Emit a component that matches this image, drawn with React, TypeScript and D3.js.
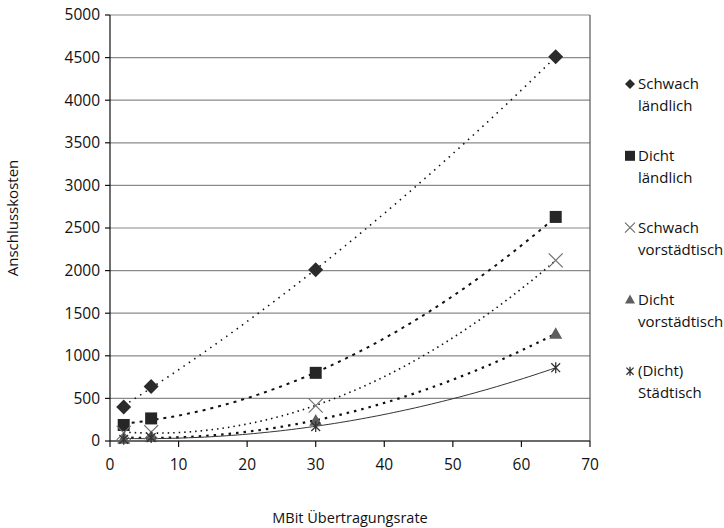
import React from "react";
import * as d3 from "d3";

const xValues = [2, 6, 30, 65];
const schwachLaendlich = [400, 640, 2010, 4510];
const dichtLaendlich = [188, 265, 800, 2630];
const schwachVorstaedtisch = [95, 105, 415, 2120];
const dichtVorstaedtisch = [30, 50, 240, 1260];
const staedtisch = [20, 40, 170, 860];
const legendLines = [
  ["Schwach", "ländlich"],
  ["Dicht", "ländlich"],
  ["Schwach", "vorstädtisch"],
  ["Dicht", "vorstädtisch"],
  ["(Dicht)", "Städtisch"],
];
const xTicks = [0, 10, 20, 30, 40, 50, 60, 70];
const yTicks = [0, 500, 1000, 1500, 2000, 2500, 3000, 3500, 4000, 4500, 5000];
const xTitle = "MBit Übertragungsrate";
const yTitle = "Anschlusskosten";

const W = 724;
const H = 528;
const FONT = "'Open Sans', 'Noto Sans', sans-serif";

const x = d3.scaleLinear().domain([0, 70]).range([110, 590]);
const y = d3.scaleLinear().domain([0, 5000]).range([441, 15]);

// quadratic least-squares trendline (like a spreadsheet polynomial trend)
function quadFit(xs: number[], ys: number[]) {
  const n = xs.length;
  let s0 = n, s1 = 0, s2 = 0, s3 = 0, s4 = 0, t0 = 0, t1 = 0, t2 = 0;
  for (let i = 0; i < n; i++) {
    const a = xs[i], b = ys[i];
    s1 += a; s2 += a * a; s3 += a * a * a; s4 += a * a * a * a;
    t0 += b; t1 += a * b; t2 += a * a * b;
  }
  const M = [
    [s0, s1, s2, t0],
    [s1, s2, s3, t1],
    [s2, s3, s4, t2],
  ];
  for (let i = 0; i < 3; i++) {
    let p = i;
    for (let r = i + 1; r < 3; r++) if (Math.abs(M[r][i]) > Math.abs(M[p][i])) p = r;
    [M[i], M[p]] = [M[p], M[i]];
    for (let r = 0; r < 3; r++) {
      if (r === i) continue;
      const f = M[r][i] / M[i][i];
      for (let c = i; c < 4; c++) M[r][c] -= f * M[i][c];
    }
  }
  const c0 = M[0][3] / M[0][0], c1 = M[1][3] / M[1][1], c2 = M[2][3] / M[2][2];
  return (v: number) => c0 + c1 * v + c2 * v * v;
}

function trendPath(ys: number[]) {
  const f = quadFit(xValues, ys);
  const x0 = xValues[0], x1 = xValues[xValues.length - 1];
  const pts = d3.range(0, 81).map((i) => x0 + ((x1 - x0) * i) / 80);
  return d3
    .line<number>()
    .x((v) => x(v))
    .y((v) => y(f(v)))(pts) as string;
}

type MarkerKind = "diamond" | "square" | "times" | "triangle" | "asterisk";

function Marker({ kind, cx, cy, s }: { kind: MarkerKind; cx: number; cy: number; s: number }) {
  const h = s / 2;
  if (kind === "diamond") {
    return <path d={`M${cx},${cy - h}L${cx + h},${cy}L${cx},${cy + h}L${cx - h},${cy}Z`} fill="#2b2b2b" />;
  }
  if (kind === "square") {
    return <rect x={cx - h} y={cy - h} width={s} height={s} fill="#262626" />;
  }
  if (kind === "times") {
    return (
      <path
        d={`M${cx - h},${cy - h}L${cx + h},${cy + h}M${cx - h},${cy + h}L${cx + h},${cy - h}`}
        stroke="#707070"
        strokeWidth={1.2}
        fill="none"
      />
    );
  }
  if (kind === "triangle") {
    return <path d={`M${cx},${cy - h}L${cx + h},${cy + h * 0.8}L${cx - h},${cy + h * 0.8}Z`} fill="#5e5e5e" />;
  }
  const d = h * 0.8;
  return (
    <path
      d={`M${cx},${cy - h}L${cx},${cy + h}M${cx - d},${cy - d}L${cx + d},${cy + d}M${cx - d},${cy + d}L${cx + d},${cy - d}`}
      stroke="#333"
      strokeWidth={1.3}
      fill="none"
    />
  );
}

const series: { values: number[]; kind: MarkerKind; size: number; dash: string; width: number; color: string }[] = [
  { values: schwachLaendlich, kind: "diamond", size: 15, dash: "1.5,5", width: 1.6, color: "#111" },
  { values: dichtLaendlich, kind: "square", size: 12, dash: "3,5", width: 2, color: "#111" },
  { values: schwachVorstaedtisch, kind: "times", size: 14, dash: "1.5,4", width: 1.6, color: "#111" },
  { values: dichtVorstaedtisch, kind: "triangle", size: 13, dash: "2.5,5", width: 2.2, color: "#111" },
  { values: staedtisch, kind: "asterisk", size: 11, dash: "", width: 1, color: "#333" },
];

export default function App() {
  return (
    <svg width={W} height={H} style={{ position: "absolute", left: 0, top: 0, background: "#fff" }} fontFamily={FONT}>
      <rect width={W} height={H} fill="#fff" />
      {/* gridlines */}
      {yTicks.map((t) => (
        <line key={"g" + t} x1={x(0)} x2={x(70)} y1={y(t)} y2={y(t)} stroke="#8a8a8a" strokeWidth={1.2} />
      ))}
      {/* plot borders */}
      <line x1={x(70)} x2={x(70)} y1={y(5000)} y2={y(0)} stroke="#555" strokeWidth={1.2} />
      <line x1={x(0)} x2={x(0)} y1={y(5000)} y2={y(0)} stroke="#111" strokeWidth={1.2} />
      <line x1={x(0)} x2={x(70)} y1={y(0)} y2={y(0)} stroke="#111" strokeWidth={1.2} />
      {/* y ticks */}
      {yTicks.map((t) => (
        <g key={"y" + t}>
          <line x1={x(0) - 5} x2={x(0)} y1={y(t)} y2={y(t)} stroke="#111" strokeWidth={1.2} />
          <text x={100} y={y(t)} dy="0.35em" textAnchor="end" fontSize={15.5} fill="#111">
            {t}
          </text>
        </g>
      ))}
      {/* x ticks */}
      {xTicks.map((t) => (
        <g key={"x" + t}>
          <line x1={x(t)} x2={x(t)} y1={y(0)} y2={y(0) + 6} stroke="#111" strokeWidth={1.2} />
          <text x={x(t)} y={y(0) + 24} dy="0.35em" textAnchor="middle" fontSize={15.5} fill="#111">
            {t}
          </text>
        </g>
      ))}
      {/* trendlines */}
      {series.map((s, i) => (
        <path
          key={"t" + i}
          d={trendPath(s.values)}
          fill="none"
          stroke={s.color}
          strokeWidth={s.width}
          strokeDasharray={s.dash || undefined}
        />
      ))}
      {/* markers */}
      {series.map((s, i) =>
        s.values.map((v, j) => <Marker key={"m" + i + "-" + j} kind={s.kind} cx={x(xValues[j])} cy={y(v)} s={s.size} />)
      )}
      {/* legend */}
      {legendLines.map((lines, i) => {
        const ly = 84 + i * 71.8;
        return (
          <g key={"l" + i}>
            <Marker kind={series[i].kind} cx={630} cy={ly} s={series[i].kind === "asterisk" ? 9 : 10} />
            <text x={638} y={ly} dy="0.35em" fontSize={15} fill="#111">
              {lines[0]}
            </text>
            <text x={638} y={ly + 22} dy="0.35em" fontSize={15} fill="#111">
              {lines[1]}
            </text>
          </g>
        );
      })}
      {/* axis titles */}
      <text x={350} y={518} dy="0.35em" textAnchor="middle" fontSize={14.5} fill="#111">
        {xTitle}
      </text>
      <text transform={`translate(13,218) rotate(-90)`} dy="0.35em" textAnchor="middle" fontSize={15} fill="#111">
        {yTitle}
      </text>
    </svg>
  );
}
